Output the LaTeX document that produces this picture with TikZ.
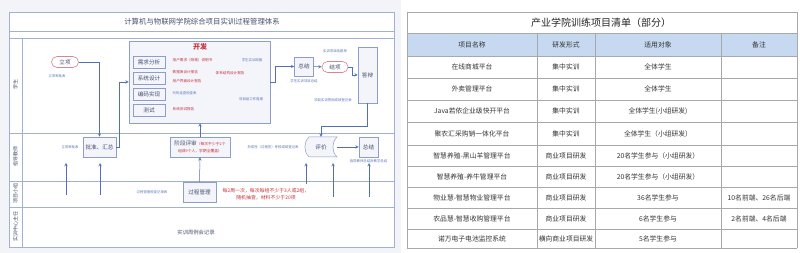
\documentclass[tikz,border=0pt]{standalone}
\usepackage{fontspec}
\setmainfont{Noto Sans CJK SC}
\usepackage{xcolor}
\usetikzlibrary{calc,positioning}
\definecolor{pmline}{HTML}{A3B0D6}
\definecolor{pmbox}{HTML}{8E9DC9}
\definecolor{pmfill}{HTML}{F3F5FB}
\definecolor{pmblue}{HTML}{5270B8}
\definecolor{pmnote}{HTML}{5A74B6}
\definecolor{pmred}{HTML}{C8323C}
\definecolor{pmtext}{HTML}{46516E}
\definecolor{pmback}{HTML}{F3F4F7}
\definecolor{tabline}{HTML}{A8A8A8}
\definecolor{tabhead}{HTML}{C6D9F1}
\tikzset{
 pm frame/.style={draw=pmline,line width=.6pt},
 pm box/.style={draw=pmbox,fill=pmfill,line width=.5pt,inner sep=1pt,
                text=pmtext,font=\fontsize{5.6}{6.5}\selectfont},
 pm sub/.style={pm box,minimum width=32pt,minimum height=12pt},
 pm term/.style={draw=pmred!60,fill=white,line width=.6pt,rounded corners=5.5pt,
                 minimum width=27pt,minimum height=11pt,inner sep=0pt,
                 text=pmtext,font=\fontsize{5.6}{6.5}\selectfont},
 pm note/.style={text=pmnote,font=\fontsize{3.4}{4}\selectfont,inner sep=.5pt},
 pm red note/.style={text=pmred,font=\fontsize{3.6}{4.2}\selectfont,inner sep=.5pt},
 pm lane label/.style={rotate=90,text=pmtext,font=\fontsize{5}{6}\selectfont},
 pm flow/.style={->,draw=pmblue,line width=.5pt},
 tab cell/.style={text=black!80,inner sep=0pt,font=\fontsize{6.8}{8}\selectfont},
 tab rule/.style={draw=tabline,line width=.6pt}
}
\begin{document}
\begin{tikzpicture}[x=1pt,y=-1pt,>=stealth]
 \useasboundingbox (0,0) rectangle (800,253);
 \fill[pmback] (0,0) rectangle (401,253);

 % Swim lane frame of the process chart.
 \filldraw[pm frame,fill=white] (9,12) rectangle (394,247);
 \draw[pm frame] (9,31) -- (394,31);
 \draw[pm frame] (9,38) -- (394,38);
 \draw[pm frame] (22,38) -- (22,247);
 \foreach \y in {133,181,207} \draw[pm frame] (9,\y) -- (394,\y);
 \node[text=pmtext,font=\fontsize{7.4}{8}\selectfont] (chart title) at (202,22)
   {计算机与物联网学院综合项目实训过程管理体系};
 \foreach \n/\t/\y in {student/学生/85,teacher/指导教师/157,group/项目小组/194,
                       center/实训中心主任/227}
   \node[pm lane label] (lane \n) at (15.5,\y) {\t};

 % Student lane.
 \node[pm term] (start) at (65,62) {立项};
 \node[pm note] (start form) at (57,76) {立项审批表};
 \node[pm box,minimum width=141pt,minimum height=82pt] (dev) at (199.5,82) {};
 \node[text=pmred,font=\bfseries\fontsize{7}{8}\selectfont] (dev title) at (200,47) {开发};
 \foreach \n/\t/\y in {req/需求分析/62,des/系统设计/78,code/编码实现/94,test/测试/110}
   \node[pm sub] (\n) at (149,\y) {\t};
 \node[pm red note,anchor=west] (srs) at (172,60) {用户需求（规格）说明书};
 \node[pm red note,anchor=west] (db doc) at (172,72) {数据库设计报告};
 \node[pm red note,anchor=west] (arch doc) at (215,73) {体系结构设计报告};
 \node[pm red note,anchor=west] (ui doc) at (172,81) {用户界面设计报告};
 \node[pm note,anchor=west] (review sheet) at (172,93) {代码走查检查表};
 \node[pm red note,anchor=west] (test doc) at (172,109) {系统测试报告};
 \node[pm note] (weekly) at (252,60) {学生实训周报};
 \node[pm note] (group weekly) at (251,99) {项目组工作周报};

 \node[pm box,minimum width=19pt,minimum height=19pt] (sum) at (304,66.5) {总结};
 \node[pm note,below=3pt of sum] (sum form) {学生实训项目总结};
 \node[pm term,minimum width=26pt] (close) at (335,67) {结项};
 \node[pm note] (close form) at (335,51) {实训项目结题单};
 \node[pm box,minimum width=19pt,minimum height=56pt] (defense) at (367.5,75) {答辩};
 \node[pm note] (defense form) at (333,100) {项目实训答辩成绩登记表};

 % Teacher lane.
 \node[pm box,minimum width=33pt,minimum height=20pt] (approve) at (99.5,147) {批准、汇总};
 \node[pm note] (approve form) at (70,147) {立项审批表};
 \node[pm box,minimum width=60pt,minimum height=20pt,align=center] (review) at (200,147)
   {阶段评审{\color{pmred}\fontsize{3.8}{4.6}\selectfont（每次不少于2个}\\
    {\color{pmred}\fontsize{3.8}{4.6}\selectfont 组成9个人，学期全覆盖）}};
 \node[pm note] (score form) at (273,147) {形成性（过程性）考核成绩登记表};
 \coordinate (eval c) at (321,147);
 \filldraw[draw=pmbox,fill=pmfill,line width=.5pt]
   ($(eval c)+(-12,-10)$) -- ($(eval c)+(16,-10)$) to[bend right=45]
   ($(eval c)+(16,10)$) -- ($(eval c)+(-12,10)$) to[bend left=45]
   ($(eval c)+(-12,-10)$) -- cycle;
 \node[text=pmtext,font=\fontsize{5.6}{6.5}\selectfont,minimum width=32pt,
       minimum height=20pt,inner sep=0pt] (eval) at (eval c) {评价};
 \node[pm box,minimum width=19pt,minimum height=20pt] (sum2) at (368.5,147) {总结};
 \node[pm note,below=2pt of sum2] (sum2 form) {指导教师总结及教学总结};

 % Group lane.
 \node[pm box,minimum width=33pt,minimum height=20pt] (manage) at (199.5,192) {过程管理};
 \node[pm note] (manage form) at (152,192) {过程管理检查记录表};
 \node[text=pmred,font=\fontsize{4.9}{7.6}\selectfont,align=center] (rule) at (266,194)
   {每2周一次，每次每组不少于3人或2组，\\随机抽查，材料不少于20项};

 % Center lane.
 \node[text=pmtext,font=\fontsize{5.3}{6}\selectfont] (meeting) at (196,232) {实训周例会记录};

 % Flow connectors.
 \draw[pm flow] (start.east) -| (approve.north);
 \draw[pm flow] (approve.east) -- ++(3,0) |- (dev.west);
 \draw[pm flow] (review.north) -- (review.north |- dev.south);
 \draw[pm flow] (manage.north) -- (review.south);
 \draw[pm flow] (dev.east) -- ++(5,0) |- (sum.west);
 \draw[pm flow] (sum) -- (close);
 \draw[pm flow] (close.east) -- ++(4,0) |- (defense.west);
 \draw[pm flow] (defense.south) -- ++(0,23) -| (eval.north);
 \draw[pm flow] (eval.east) -- (sum2.west);
 \foreach \i/\x/\y in {1/66/195,2/100/195,3/306/184,4/333/197,5/369/197}{
   \coordinate (src\i) at (\x,\y);
   \coordinate (dst\i) at (\x,163);
   \draw[pm flow] (src\i) -- (dst\i);
 }

 % Project list table.
 \fill[tabhead] (407,33) rectangle (797,56);
 \foreach \y in {12,33,56,78,100,122,145,166,187,208,229,248}
   \draw[tab rule] (407,\y) -- (797,\y);
 \draw[tab rule] (407,12) -- (407,248);
 \draw[tab rule] (797,12) -- (797,248);
 \foreach \x in {537,595,721} \draw[tab rule] (\x,33) -- (\x,248);
 \node[text=black!85,font=\fontsize{10}{12}\selectfont] (tab title) at (601,22.5)
   {产业学院训练项目清单（部分）};
 \foreach \r/\y/\a/\b/\c/\d in {
   0/44.5/项目名称/研发形式/适用对象/备注,
   1/67/在线商城平台/集中实训/全体学生/{},
   2/89/外卖管理平台/集中实训/全体学生/{},
   3/111/Java若依企业级快开平台/集中实训/全体学生(小组研发)/{},
   4/133.5/聚农汇采购销一体化平台/集中实训/全体学生（小组研发）/{},
   5/155.5/智慧养殖-黑山羊管理平台/商业项目研发/20名学生参与（小组研发）/{},
   6/176.5/智慧养殖-养牛管理平台/商业项目研发/20名学生参与（小组研发）/{},
   7/197.5/物业慧-智慧物业管理平台/商业项目研发/36名学生参与/10名前端、26名后端,
   8/218.5/农品慧-智慧收购管理平台/商业项目研发/6名学生参与/2名前端、4名后端,
   9/238.5/诺万电子电池监控系统/横向商业项目研发/5名学生参与/{}}{
   \node[tab cell] (cell \r a) at (472,\y) {\a};
   \node[tab cell] (cell \r b) at (566,\y) {\b};
   \node[tab cell] (cell \r c) at (658,\y) {\c};
   \node[tab cell] (cell \r d) at (759,\y) {\d};
 }
\end{tikzpicture}
\end{document}
